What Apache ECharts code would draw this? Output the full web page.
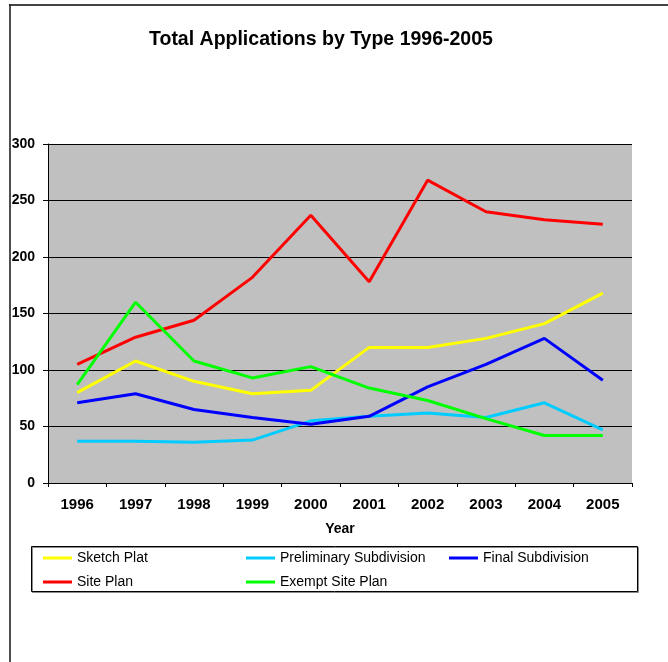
<!DOCTYPE html>
<html>
<head>
<meta charset="utf-8">
<title>Total Applications by Type 1996-2005</title>
<script src="https://cdn.jsdelivr.net/npm/echarts@6/dist/echarts.min.js"></script>
<style>
  html, body { margin: 0; padding: 0; background: #fff; }
  #chart { width: 668px; height: 662px; }
</style>
</head>
<body>
<div id="chart"></div>
<script>
// Application counts per year, by application type
const years = ['1996', '1997', '1998', '1999', '2000', '2001', '2002', '2003', '2004', '2005'];
const sketchPlat = [80, 108, 90, 79, 82, 120, 120, 128, 141, 168];
const preliminarySubdivision = [37, 37, 36, 38, 55, 59, 62, 58, 71, 47];
const finalSubdivision = [71, 79, 65, 58, 52, 59, 85, 105, 128, 91];
const sitePlan = [105, 129, 144, 182, 237, 178, 268, 240, 233, 229];
const exemptSitePlan = [87, 160, 108, 93, 103, 84, 73, 57, 42, 42];
const yTicks = { min: 0, max: 300, interval: 50 };

const seriesDefs = [
  { name: 'Sketch Plat', data: sketchPlat, color: '#FFFF00' },
  { name: 'Preliminary Subdivision', data: preliminarySubdivision, color: '#00CCFF' },
  { name: 'Final Subdivision', data: finalSubdivision, color: '#0000FF' },
  { name: 'Site Plan', data: sitePlan, color: '#FF0000' },
  { name: 'Exempt Site Plan', data: exemptSitePlan, color: '#00FF00' }
];

const FONT = '"Liberation Sans", Arial, sans-serif';
const chart = echarts.init(document.getElementById('chart'), null, { renderer: 'canvas' });

chart.setOption({
  animation: false,
  backgroundColor: '#ffffff',
  title: {
    text: 'Total Applications by Type 1996-2005',
    left: 149,
    top: 30,
    padding: 0,
    textStyle: { fontFamily: FONT, fontSize: 19.5, fontWeight: 'bold', color: '#000', lineHeight: 20 }
  },
  grid: {
    left: 48, top: 144, right: 36, bottom: 179,
    show: true, backgroundColor: '#C0C0C0', borderWidth: 0
  },
  legend: {
    left: 43,
    top: 551,
    width: 599,
    padding: 0,
    itemGap: 10,
    itemWidth: 29,
    itemHeight: 3,
    icon: 'rect',
    selectedMode: false,
    data: seriesDefs.map(s => s.name),
    textStyle: { fontFamily: FONT, fontSize: 14, color: '#000', width: 159, lineHeight: 13 }
  },
  xAxis: {
    type: 'category',
    data: years,
    boundaryGap: true,
    name: 'Year',
    nameLocation: 'middle',
    nameGap: 39,
    nameTextStyle: { fontFamily: FONT, fontSize: 14, fontWeight: 'bold', color: '#000' },
    axisLine: { show: true, lineStyle: { color: '#000', width: 1 } },
    axisTick: { show: true, alignWithLabel: false, length: 4, lineStyle: { color: '#000' } },
    axisLabel: { fontFamily: FONT, fontSize: 15, fontWeight: 'bold', color: '#000', margin: 14, interval: 0 },
    splitLine: { show: false }
  },
  yAxis: {
    type: 'value',
    min: yTicks.min,
    max: yTicks.max,
    interval: yTicks.interval,
    axisLine: { show: true, lineStyle: { color: '#000', width: 1 } },
    axisTick: { show: true, length: 5, lineStyle: { color: '#000' } },
    axisLabel: { fontFamily: FONT, fontSize: 14, fontWeight: 'bold', color: '#000', margin: 13 },
    splitLine: { show: true, lineStyle: { color: '#000', width: 1 } }
  },
  graphic: [
    // page frame: top and left rules
    { type: 'line', shape: { x1: 9, y1: 5, x2: 668, y2: 5 }, style: { stroke: '#444', lineWidth: 2 }, silent: true },
    { type: 'line', shape: { x1: 10, y1: 4, x2: 10, y2: 662 }, style: { stroke: '#222', lineWidth: 1.6 }, silent: true },
    // legend box
    { type: 'rect', shape: { x: 31.5, y: 546.5, width: 606, height: 45 },
      style: { fill: 'none', stroke: '#000', lineWidth: 1, shadowColor: 'rgba(0,0,0,0.45)', shadowOffsetX: 1, shadowOffsetY: 1 }, silent: true, z: -1 }
  ],
  series: seriesDefs.map(s => ({
    name: s.name,
    type: 'line',
    data: s.data,
    symbol: 'none',
    smooth: false,
    color: s.color,
    lineStyle: { color: s.color, width: 3 },
    emphasis: { disabled: true }
  }))
});
</script>
</body>
</html>
